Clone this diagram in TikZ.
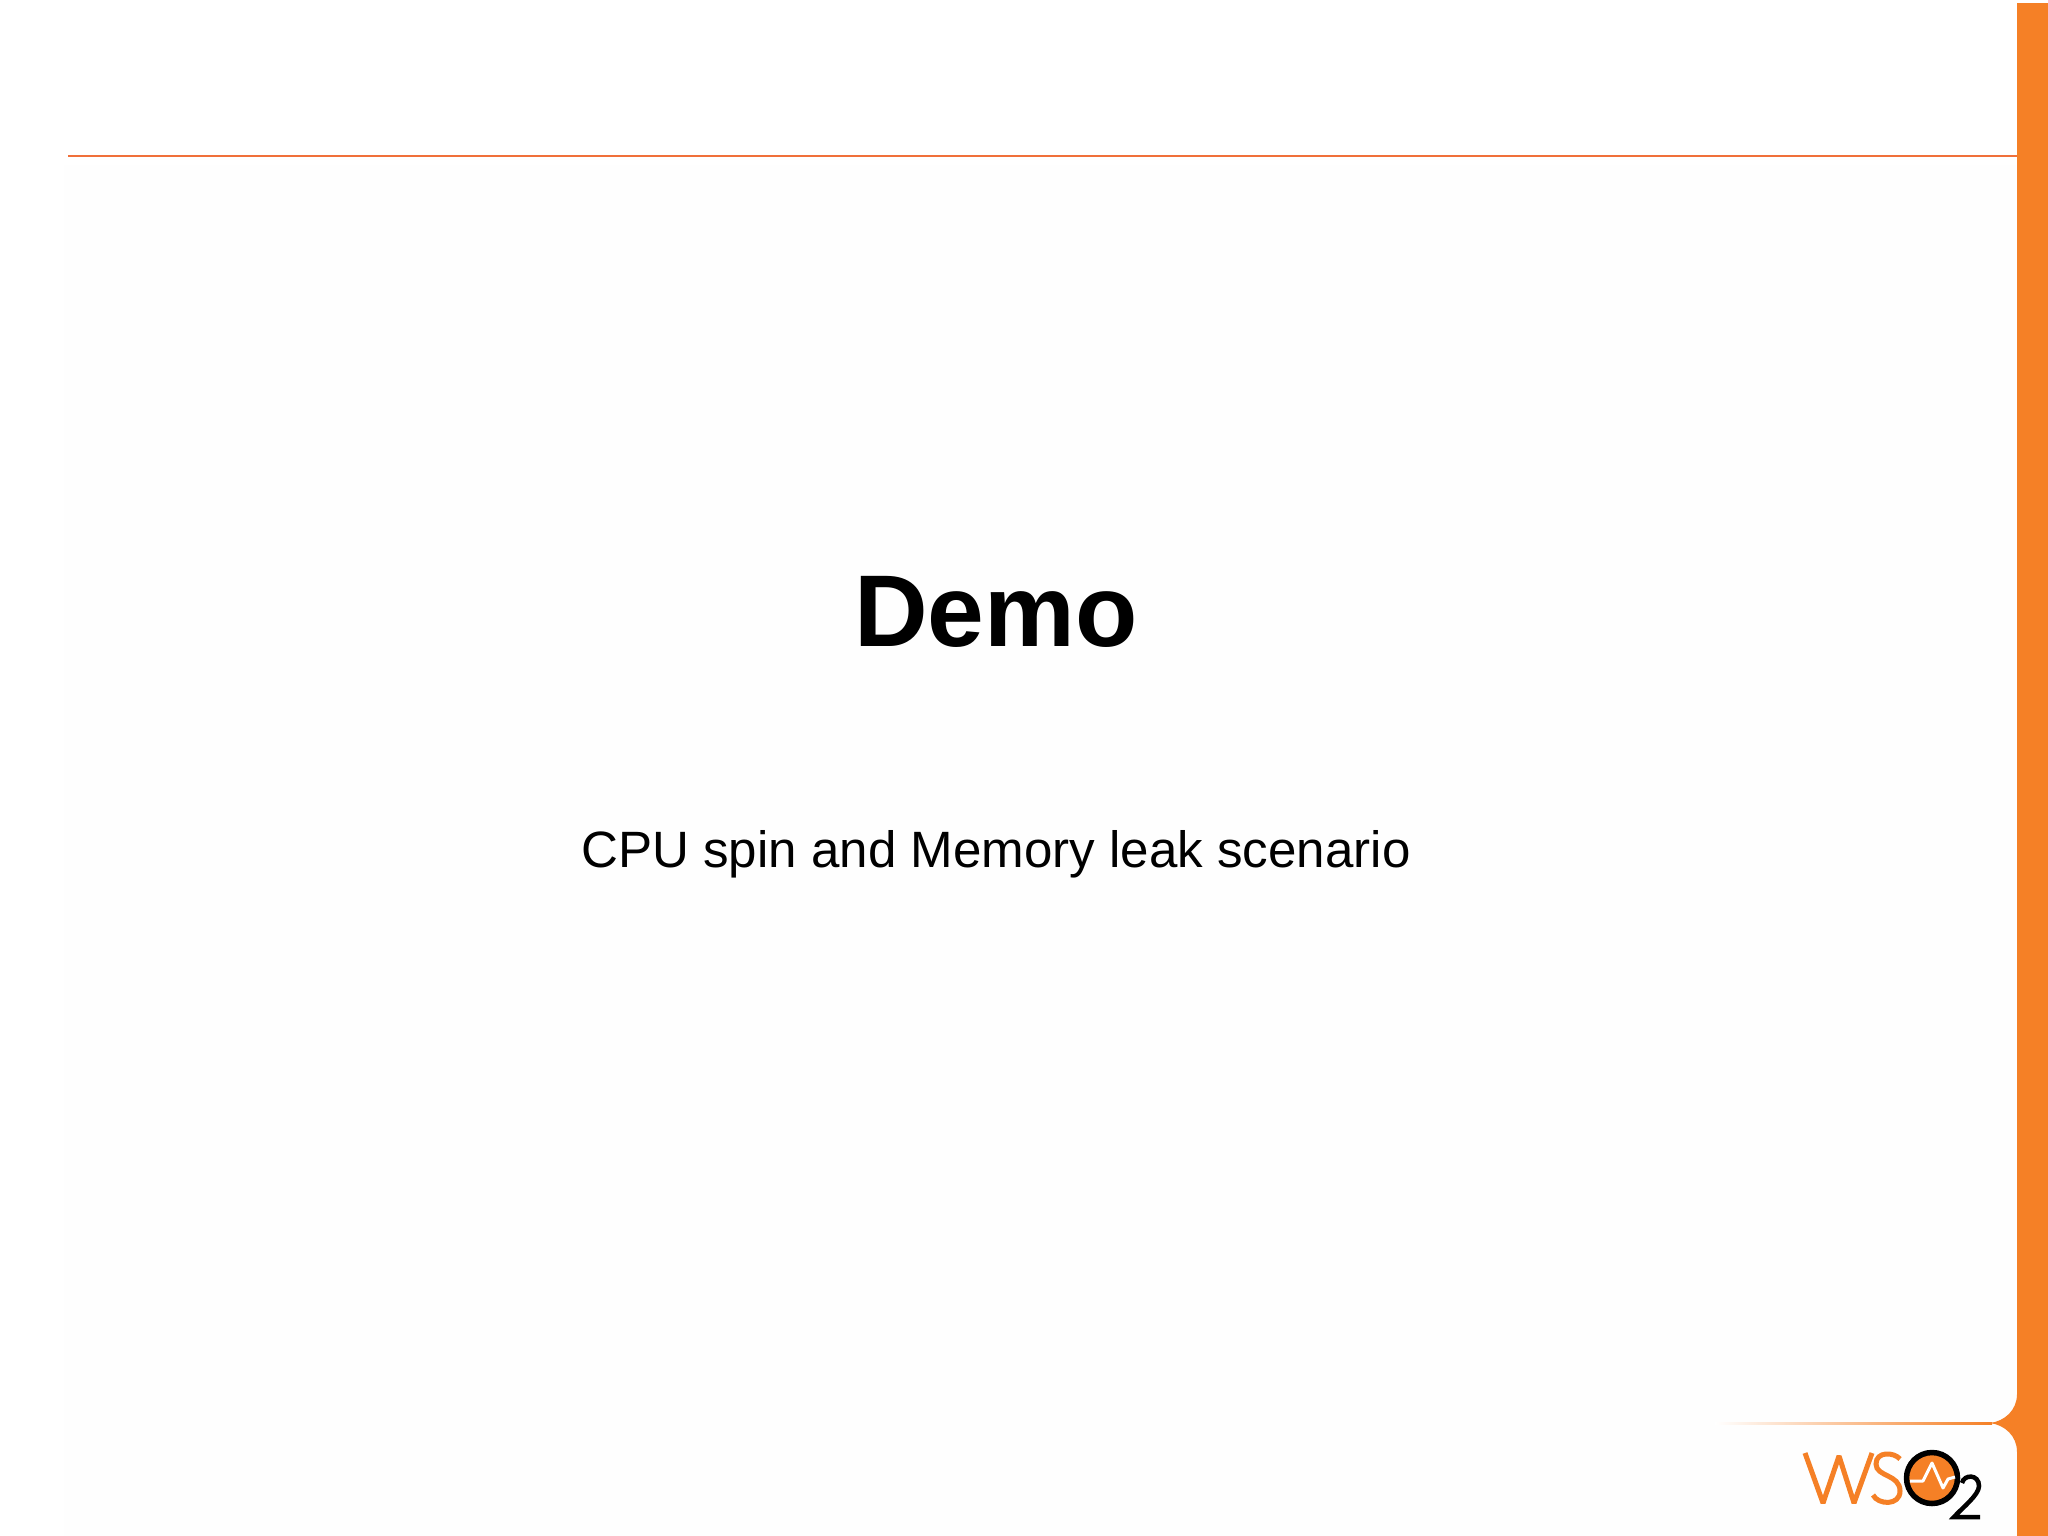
\documentclass[tikz,border=0pt]{standalone}
\usepackage{fontspec}
\setmainfont{Liberation Sans}
\usepackage{tikz}
\usepackage{xcolor}
\definecolor{wsoorange}{HTML}{F58026}
\definecolor{ruleorange}{HTML}{F0703A}
\definecolor{pagegrey}{HTML}{FEFEFE}
\tikzset{
  logoline/.style={line width=0.05cm, wsoorange},
  blackline/.style={line width=0.045cm, black},
}

\begin{document}
\begin{tikzpicture}[x=0.01cm,y=-0.01cm]
\useasboundingbox (0,0) rectangle (2048,1536);

% Page tint
\fill[pagegrey] (64,165) rectangle (2017,1536);

% Top rule
\draw[ruleorange, line width=0.025cm] (68,156) -- (2018,156);

% Orange bar with notch
\fill[wsoorange] (2017,3) -- (2048,3) -- (2048,1536) -- (2017,1536) -- (2017,1452)
  .. controls (2017,1436) and (2005,1425) .. (1990,1423)
  .. controls (2005,1421) and (2017,1410) .. (2017,1394) -- cycle;
\shade[left color=white, right color=wsoorange] (1715,1422) rectangle (1992,1424);

% Titles
\node[font=\fontsize{29}{34}\selectfont\bfseries] (title) at (996,612) {Demo};
\node[font=\fontsize{14.53}{18}\selectfont] (subtitle) at (996,854) {CPU spin and Memory leak scenario};

% WSO2 logo
\draw[logoline, line join=bevel] (1805,1453) -- (1823,1503) -- (1839,1456) -- (1854,1503) -- (1872,1453);
\draw[logoline] (1900,1459) .. controls (1894,1452) and (1876,1451) .. (1876,1464)
  .. controls (1876,1477) and (1900,1474) .. (1900,1491)
  .. controls (1900,1506) and (1878,1505) .. (1873,1495);
\draw[line width=0.055cm, black, fill=wsoorange] (1932,1478) circle (25.5);
\draw[white, line width=0.03cm, line join=round] (1910,1481) -- (1923,1481) -- (1932,1463) -- (1943,1488) -- (1948,1479) -- (1955,1477);
\draw[blackline] (1962,1483) .. controls (1964,1474) and (1979,1474) .. (1979,1486)
  .. controls (1979,1495) and (1962,1508) .. (1954,1517) -- (1980,1517);
\end{tikzpicture}
\end{document}
